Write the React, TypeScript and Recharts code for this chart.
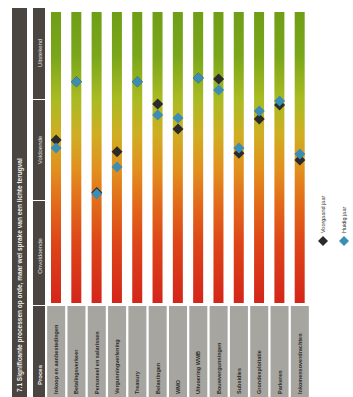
import React from "react";
import {
  ComposedChart,
  Bar,
  Scatter,
  XAxis,
  YAxis,
  Legend,
} from "recharts";

// process names (rotated labels under each column)
const processes = [
  "Inkoop en aanbestedingen",
  "Betalingsverkeer",
  "Personeel en salarissen",
  "Vergunningverlening",
  "Treasury",
  "Belastingen",
  "WMO",
  "Uitvoering WWB",
  "Bouwvergunningen",
  "Subsidies",
  "Grondexploitatie",
  "Parkeren",
  "Inkomensoverdrachten",
];

// score on a 0-100 scale (0 = bottom of Onvoldoende, 100 = top of Uitstekend)
const previousYear = [56, 76, 38, 52, 76, 68.4, 59.8, 77.3, 77, 51.5, 63.2, 68, 49.1];
const currentYear = [53.3, 76, 37.5, 46.7, 76, 64.6, 63.6, 77.3, 73.2, 53.3, 66, 69.4, 51.2];

const bands = [
  { label: "Uitstekend", mid: 53 },
  { label: "Voldoende", mid: 150 },
  { label: "Onvoldoende", mid: 256 },
];

const TITLE = "7.1 Significante processen op orde, maar wel sprake van een lichte terugval";

const data = processes.map((name, i) => ({
  name,
  full: 100,
  prev: previousYear[i],
  cur: currentYear[i],
}));

const DARK = "#4a4541";
const BLACK = "#2b2b2b";
const BLUE = "#3b8db3";

const diamond = (fill: string) => (props: any) => {
  const { cx, cy } = props;
  const r = 5.5;
  return (
    <polygon
      points={`${cx},${cy - r} ${cx + r},${cy} ${cx},${cy + r} ${cx - r},${cy}`}
      fill={fill}
    />
  );
};

const ProcessTick = (props: any) => {
  const { x, y, payload } = props;
  return (
    <g>
      <rect x={x - 9} y={y + 3} width={18} height={91} fill="#a6a5a0" />
      <text
        transform={`translate(${x + 2},${y + 91}) rotate(-90)`}
        fontSize={5.5}
        fontWeight="bold"
        fontFamily="Liberation Sans, Arial, sans-serif"
        fill="#2e2c29"
      >
        {payload.value}
      </text>
    </g>
  );
};

const LegendContent = () => (
  <svg width={40} height={70}>
    <polygon points="11,58 16,63 11,68 6,63" fill={BLACK} />
    <text
      transform="translate(13,55) rotate(-90)"
      fontSize={5.5}
      fontFamily="Liberation Sans, Arial, sans-serif"
      fill="#333"
    >
      Voorgaand jaar
    </text>
    <polygon points="32,58 37,63 32,68 27,63" fill={BLUE} />
    <text
      transform="translate(34,55) rotate(-90)"
      fontSize={5.5}
      fontFamily="Liberation Sans, Arial, sans-serif"
      fill="#333"
    >
      Huidig jaar
    </text>
  </svg>
);

export default function App() {
  return (
    <div
      style={{
        position: "fixed",
        left: 0,
        top: 0,
        width: 353,
        height: 397,
        background: "#fff",
      }}
    >
      <svg
        width={353}
        height={397}
        style={{ position: "absolute", left: 0, top: 0 }}
        fontFamily="Liberation Sans, Arial, sans-serif"
      >
        <rect x={12} y={8} width={15} height={389} fill={DARK} />
        <text
          transform="translate(22,392) rotate(-90)"
          fontSize={6.5}
          fontWeight="bold"
          fill="#f2f0ec"
        >
          {TITLE}
        </text>
        <rect x={33} y={8} width={12} height={91} fill={DARK} />
        <rect x={33} y={100} width={12} height={100} fill={DARK} />
        <rect x={33} y={201} width={12} height={104} fill={DARK} />
        <rect x={33} y={306} width={12} height={91} fill={DARK} />
        {bands.map((b) => (
          <text
            key={b.label}
            transform={`translate(41.5,${b.mid}) rotate(-90)`}
            textAnchor="middle"
            fontSize={6}
            fill="#e8e6e2"
          >
            {b.label}
          </text>
        ))}
        <text
          transform="translate(41.5,375) rotate(-90)"
          textAnchor="middle"
          fontSize={6}
          fontWeight="bold"
          fill="#f2f0ec"
        >
          Proces
        </text>
      </svg>
      <div style={{ position: "absolute", left: 0, top: 0 }}>
        <ComposedChart
          width={353}
          height={397}
          data={data}
          margin={{ top: 12, right: 43, bottom: 0, left: 46 }}
        >
          <defs>
            <linearGradient id="scoreGrad" x1="0" y1="0" x2="0" y2="1">
              <stop offset="0%" stopColor="#6f9e17" />
              <stop offset="15%" stopColor="#7aa61a" />
              <stop offset="30%" stopColor="#a9bb22" />
              <stop offset="42%" stopColor="#cfae22" />
              <stop offset="54%" stopColor="#e2901e" />
              <stop offset="66%" stopColor="#e26a1a" />
              <stop offset="80%" stopColor="#dd4418" />
              <stop offset="100%" stopColor="#d4251a" />
            </linearGradient>
          </defs>
          <XAxis
            dataKey="name"
            height={94}
            interval={0}
            axisLine={false}
            tickLine={false}
            tickSize={0}
            tickMargin={0}
            tick={<ProcessTick />}
          />
          <YAxis hide domain={[0, 100]} />
          <Legend
            layout="vertical"
            align="center"
            verticalAlign="middle"
            wrapperStyle={{ left: 312, top: 178, width: 40, height: 70 }}
            content={<LegendContent />}
          />
          <Bar
            dataKey="full"
            barSize={10}
            fill="url(#scoreGrad)"
            isAnimationActive={false}
            legendType="none"
          />
          <Scatter
            name="Voorgaand jaar"
            dataKey="prev"
            shape={diamond(BLACK)}
            isAnimationActive={false}
          />
          <Scatter
            name="Huidig jaar"
            dataKey="cur"
            shape={diamond(BLUE)}
            isAnimationActive={false}
          />
        </ComposedChart>
      </div>
    </div>
  );
}
